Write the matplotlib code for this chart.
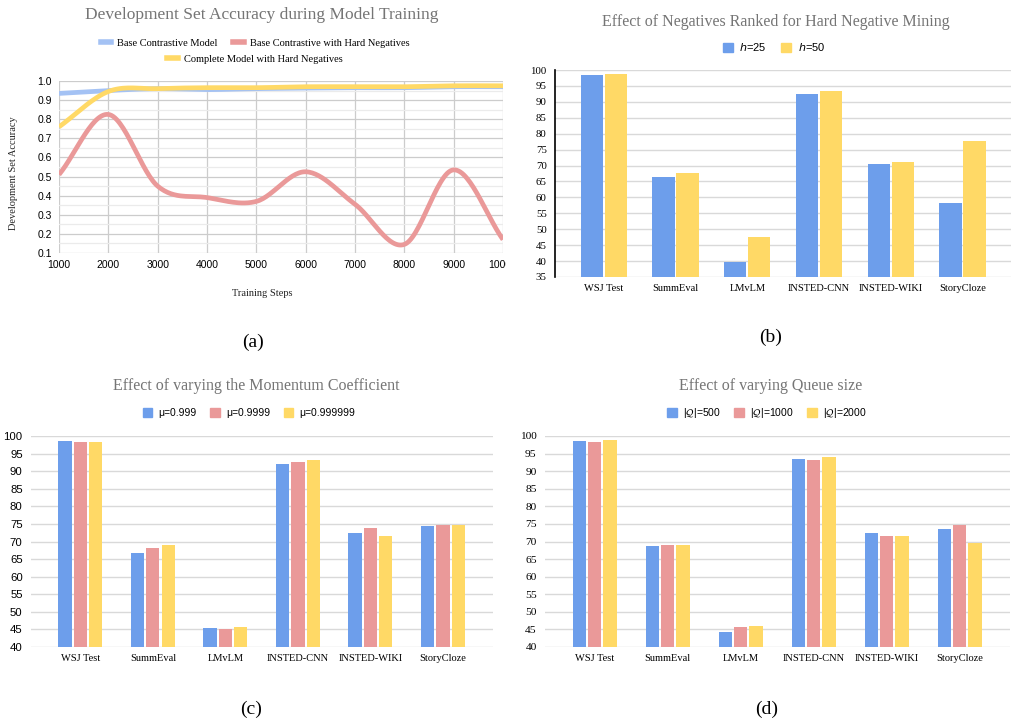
import numpy as np
import matplotlib
matplotlib.use("Agg")
import matplotlib.pyplot as plt
from matplotlib.patches import Patch
from matplotlib.lines import Line2D
from matplotlib.transforms import Bbox, TransformedBbox

# ---------------- data ----------------
steps = [1000, 2000, 3000, 4000, 5000, 6000, 7000, 8000, 9000, 10000]
acc_base = [0.935, 0.950, 0.960, 0.955, 0.960, 0.963, 0.965, 0.965, 0.970, 0.970]
acc_hard = [0.51, 0.825, 0.45, 0.39, 0.37, 0.525, 0.355, 0.145, 0.535, 0.17]
acc_complete = [0.76, 0.945, 0.960, 0.965, 0.965, 0.970, 0.970, 0.970, 0.975, 0.975]

datasets = ["WSJ Test", "SummEval", "LMvLM", "INSTED-CNN", "INSTED-WIKI", "StoryCloze"]

h_labels = ["$h$=25", "$h$=50"]
h_25 = [98.5, 66.4, 39.6, 92.4, 70.4, 58.2]
h_50 = [98.7, 67.8, 47.6, 93.3, 71.0, 77.8]

mu_labels = ["μ=0.999", "μ=0.9999", "μ=0.999999"]
mu_999 = [98.6, 66.7, 45.4, 92.1, 72.4, 74.3]
mu_9999 = [98.4, 68.2, 45.1, 92.7, 73.9, 74.6]
mu_999999 = [98.4, 69.0, 45.7, 93.3, 71.7, 74.6]

q_labels = [r"|$\mathcal{Q}$|=500", r"|$\mathcal{Q}$|=1000", r"|$\mathcal{Q}$|=2000"]
q_500 = [98.6, 68.7, 44.4, 93.5, 72.4, 73.6]
q_1000 = [98.4, 69.0, 45.7, 93.3, 71.7, 74.6]
q_2000 = [98.9, 69.0, 46.0, 93.9, 71.7, 69.5]

BLUE = "#6d9eeb"
RED = "#ea9999"
YELLOW = "#ffd966"
LBLUE = "#a4c2f4"
GRID = "#d9d9d9"
TITLE = "#757575"
SERIF = "Liberation Serif"
SANS = "Liberation Sans"

W, H = 1012, 719
fig = plt.figure(figsize=(W / 100, H / 100), dpi=100)


def px_axes(l, t, r, b):
    return fig.add_axes([l / W, 1 - b / H, (r - l) / W, (b - t) / H])


def fx(x):
    return x / W


def fy(y):
    return 1 - y / H


def smooth(x, y, n=30):
    # Catmull-Rom style cubic Hermite, only for drawing the curve smoothly
    x = np.asarray(x, float)
    y = np.asarray(y, float)
    m = np.zeros_like(y)
    m[1:-1] = (y[2:] - y[:-2]) / (x[2:] - x[:-2])
    m[0] = (y[1] - y[0]) / (x[1] - x[0])
    m[-1] = (y[-1] - y[-2]) / (x[-1] - x[-2])
    xs, ys = [], []
    for i in range(len(x) - 1):
        h = x[i + 1] - x[i]
        t = np.linspace(0, 1, n, endpoint=False)
        h00 = 2 * t**3 - 3 * t**2 + 1
        h10 = t**3 - 2 * t**2 + t
        h01 = -2 * t**3 + 3 * t**2
        h11 = t**3 - t**2
        xs.append(x[i] + t * h)
        ys.append(h00 * y[i] + h10 * h * m[i] + h01 * y[i + 1] + h11 * h * m[i + 1])
    xs.append([x[-1]])
    ys.append([y[-1]])
    return np.concatenate(xs), np.concatenate(ys)


# ===================== (a) line chart =====================
ax = px_axes(59, 81, 503, 253)
for vals, col in [(acc_base, LBLUE), (acc_hard, RED), (acc_complete, YELLOW)]:
    sx, sy = smooth(steps, vals)
    ax.plot(sx, sy, color=col, lw=3.4, solid_capstyle="butt", zorder=3)
ax.set_xlim(1000, 10000)
ax.set_ylim(0.1, 1.0)
ax.set_xticks(steps)
ax.set_yticks(np.arange(0.1, 1.01, 0.1))
ax.set_yticks(np.arange(0.15, 1.0, 0.1), minor=True)
ax.set_yticklabels(["%.1f" % v for v in np.arange(0.1, 1.01, 0.1)])
ax.grid(True, which="major", color="#cccccc", lw=0.9)
ax.grid(True, which="minor", axis="y", color="#ebebeb", lw=0.9)
ax.set_axisbelow(True)
for s in ax.spines.values():
    s.set_visible(False)
ax.tick_params(which="both", length=0, labelsize=7.5, pad=5)
for lbl in ax.get_xticklabels() + ax.get_yticklabels():
    lbl.set_fontfamily(SANS)
clip = TransformedBbox(Bbox.from_extents(0, 0, 506 / W, 1), fig.transFigure)
for lbl in ax.get_xticklabels():
    lbl.set_clip_box(clip)
    lbl.set_clip_on(True)

fig.text(fx(262), fy(15), "Development Set Accuracy during Model Training",
         ha="center", va="center", family=SERIF, size=12.5, color=TITLE)
fig.text(fx(262), fy(293), "Training Steps", ha="center", va="center",
         family=SERIF, size=7.5, color="#222222")
fig.text(fx(14), fy(173), "Development Set Accuracy", ha="center", va="center",
         rotation=90, family=SERIF, size=7.5, color="#222222")

line_names = ["Base Contrastive Model", "Base Contrastive with Hard Negatives",
              "Complete Model with Hard Negatives"]
hl = [Line2D([], [], color=c, lw=4) for c in (LBLUE, RED, YELLOW)]
fig.legend(hl[:2], line_names[:2], loc="center", bbox_to_anchor=(fx(255), fy(43)),
           ncol=2, frameon=False, handlelength=1.0, handletextpad=0.6,
           columnspacing=1.5, prop={"family": SERIF, "size": 7.5})
fig.legend(hl[2:], line_names[2:], loc="center", bbox_to_anchor=(fx(255), fy(59)),
           frameon=False, handlelength=1.0, handletextpad=0.6,
           prop={"family": SERIF, "size": 7.5})


# ===================== bar chart helper =====================
def bar_panel(box, series, colors, width, step, ylim, tick_font, tick_size, black_spine=False):
    ax = px_axes(*box)
    x = np.arange(len(datasets))
    k = len(series)
    for i, (vals, col) in enumerate(zip(series, colors)):
        ax.bar(x + (i - (k - 1) / 2) * step, vals, width=width, color=col, zorder=3)
    ax.set_xlim(-0.68, 5.69)
    ax.set_ylim(*ylim)
    ax.set_yticks(np.arange(ylim[0], ylim[1] + 1, 5))
    ax.set_xticks(x)
    ax.set_xticklabels(datasets, family=SERIF, size=7.5)
    for lbl in ax.get_yticklabels():
        lbl.set_fontfamily(tick_font)
    ax.grid(True, axis="y", color=GRID, lw=1.0)
    ax.set_axisbelow(True)
    for s in ax.spines.values():
        s.set_visible(False)
    if black_spine:
        ax.spines["left"].set_visible(True)
        ax.spines["left"].set_color("black")
        ax.spines["left"].set_linewidth(1.2)
    ax.tick_params(axis="y", length=0, labelsize=tick_size, pad=6)
    ax.tick_params(axis="x", length=0, pad=5)
    return ax


# ===================== (b) =====================
bar_panel((555, 70, 1012, 277), [h_25, h_50], [BLUE, YELLOW],
          0.31, 0.335, (35, 100), SERIF, 7.8, black_spine=True)
fig.text(fx(776), fy(22), "Effect of Negatives Ranked for Hard Negative Mining",
         ha="center", va="center", family=SERIF, size=11.5, color=TITLE)
fig.legend([Patch(color=BLUE), Patch(color=YELLOW)], h_labels, loc="center",
           bbox_to_anchor=(fx(774), fy(47)), ncol=2, frameon=False,
           handlelength=0.9, handleheight=0.9, handletextpad=0.6, columnspacing=1.3,
           prop={"family": SANS, "size": 8})

# ===================== (c) =====================
bar_panel((31, 436, 493, 647), [mu_999, mu_9999, mu_999999],
          [BLUE, RED, YELLOW], 0.183, 0.211, (40, 100), SANS, 8.2)
fig.text(fx(256), fy(386), "Effect of varying the Momentum Coefficient",
         ha="center", va="center", family=SERIF, size=11.5, color=TITLE)
fig.legend([Patch(color=c) for c in (BLUE, RED, YELLOW)], mu_labels, loc="center",
           bbox_to_anchor=(fx(249), fy(413)), ncol=3, frameon=False,
           handlelength=0.9, handleheight=0.9, handletextpad=0.6, columnspacing=1.3,
           prop={"family": SANS, "size": 7.5})

# ===================== (d) =====================
bar_panel((545, 436, 1010, 647), [q_500, q_1000, q_2000],
          [BLUE, RED, YELLOW], 0.183, 0.211, (40, 100), SERIF, 8.2)
fig.text(fx(771), fy(386), "Effect of varying Queue size",
         ha="center", va="center", family=SERIF, size=11.5, color=TITLE)
fig.legend([Patch(color=c) for c in (BLUE, RED, YELLOW)], q_labels, loc="center",
           bbox_to_anchor=(fx(767), fy(413)), ncol=3, frameon=False,
           handlelength=0.9, handleheight=0.9, handletextpad=0.6, columnspacing=1.3,
           prop={"family": SANS, "size": 7.5})

# ===================== panel letters =====================
for x, y, s in [(253, 342, "(a)"), (771, 337, "(b)"), (251, 709, "(c)"), (767, 709, "(d)")]:
    fig.text(fx(x), fy(y), s, ha="center", va="center", family=SERIF, size=14)

fig.savefig("out.png", dpi=100)
